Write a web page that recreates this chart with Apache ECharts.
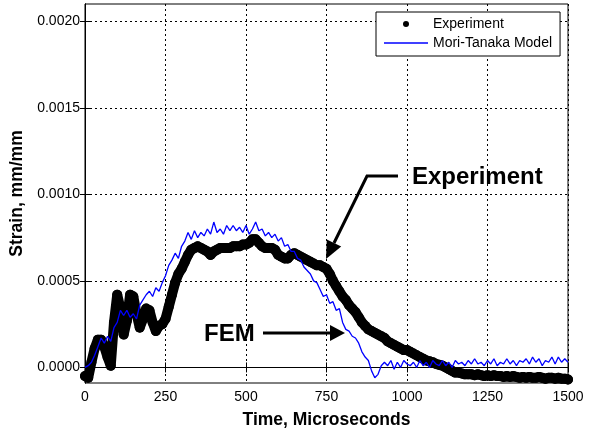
<!DOCTYPE html>
<html>
<head>
<meta charset="utf-8">
<script src="https://cdn.jsdelivr.net/npm/echarts@6/dist/echarts.min.js"></script>
<style>
html,body{margin:0;padding:0;background:#fff;}
#chart{width:598px;height:434px;}
</style>
</head>
<body>
<div id="chart"></div>
<script>
// Time in microseconds (sample every 10 us)
var times = [];
for (var i = 0; i <= 150; i++) times.push(i * 10);

var xTicks = [0, 250, 500, 750, 1000, 1250, 1500];
var yTicks = [0, 0.0005, 0.0010, 0.0015, 0.0020];

// Experiment strain, mm/mm
var experiment = [
 -0.5e-4,-0.6e-4,0.3e-4,1.1e-4,1.6e-4,1.6e-4,1.2e-4,0.6e-4,0.1e-4,2.6e-4,
 4.2e-4,3.4e-4,1.9e-4,2.7e-4,4.2e-4,4.1e-4,3.1e-4,2.3e-4,2.8e-4,3.4e-4,
 3.3e-4,2.6e-4,2.1e-4,2.4e-4,2.5e-4,2.8e-4,3.5e-4,4.2e-4,4.9e-4,5.4e-4,
 5.7e-4,6.1e-4,6.5e-4,6.8e-4,6.9e-4,7.0e-4,6.9e-4,6.8e-4,6.7e-4,6.5e-4,
 6.7e-4,6.8e-4,6.9e-4,6.9e-4,6.9e-4,6.9e-4,7.0e-4,7.0e-4,7.0e-4,7.1e-4,
 7.1e-4,7.2e-4,7.4e-4,7.4e-4,7.2e-4,7.0e-4,6.9e-4,6.9e-4,6.9e-4,6.8e-4,
 6.5e-4,6.4e-4,6.3e-4,6.3e-4,6.5e-4,6.6e-4,6.5e-4,6.4e-4,6.3e-4,6.2e-4,
 6.1e-4,6.0e-4,5.9e-4,5.9e-4,5.8e-4,5.7e-4,5.4e-4,5.0e-4,4.7e-4,4.4e-4,
 4.1e-4,3.9e-4,3.6e-4,3.4e-4,3.2e-4,2.9e-4,2.6e-4,2.4e-4,2.2e-4,2.1e-4,
 2.0e-4,1.9e-4,1.8e-4,1.7e-4,1.5e-4,1.4e-4,1.3e-4,1.2e-4,1.1e-4,1.0e-4,
 1.0e-4,0.9e-4,0.8e-4,0.7e-4,0.6e-4,0.5e-4,0.4e-4,0.35e-4,0.3e-4,0.2e-4,
 0.15e-4,0.1e-4,0.0,-0.1e-4,-0.2e-4,-0.3e-4,-0.3e-4,-0.35e-4,-0.4e-4,-0.4e-4,
 -0.4e-4,-0.45e-4,-0.4e-4,-0.45e-4,-0.5e-4,-0.45e-4,-0.5e-4,-0.45e-4,-0.5e-4,-0.5e-4,
 -0.55e-4,-0.5e-4,-0.55e-4,-0.5e-4,-0.55e-4,-0.6e-4,-0.55e-4,-0.6e-4,-0.55e-4,-0.6e-4,
 -0.6e-4,-0.55e-4,-0.6e-4,-0.65e-4,-0.6e-4,-0.6e-4,-0.65e-4,-0.6e-4,-0.65e-4,-0.65e-4,
 -0.7e-4
];

// Mori-Tanaka model strain, mm/mm
var moriTanaka = [
 0.0,0.1e-4,0.3e-4,0.7e-4,1.2e-4,1.7e-4,1.4e-4,1.8e-4,1.5e-4,2.3e-4,
 2.6e-4,3.3e-4,3.0e-4,3.3e-4,2.9e-4,3.1e-4,2.8e-4,3.6e-4,3.9e-4,4.2e-4,
 4.4e-4,4.1e-4,4.6e-4,4.4e-4,4.9e-4,5.3e-4,5.9e-4,6.2e-4,6.6e-4,6.3e-4,
 7.0e-4,7.3e-4,7.8e-4,7.4e-4,7.9e-4,7.5e-4,7.8e-4,7.6e-4,8.0e-4,7.7e-4,
 8.4e-4,7.8e-4,8.0e-4,7.7e-4,8.2e-4,7.9e-4,8.2e-4,7.9e-4,8.1e-4,7.8e-4,
 8.2e-4,7.7e-4,8.0e-4,8.4e-4,7.9e-4,8.0e-4,7.6e-4,7.8e-4,7.5e-4,7.7e-4,
 7.3e-4,7.5e-4,7.0e-4,7.1e-4,6.7e-4,6.7e-4,6.3e-4,6.2e-4,5.8e-4,5.6e-4,
 5.4e-4,5.0e-4,4.9e-4,4.5e-4,4.1e-4,4.2e-4,3.7e-4,3.8e-4,3.3e-4,3.4e-4,
 2.6e-4,2.2e-4,2.1e-4,1.8e-4,1.7e-4,1.4e-4,0.9e-4,0.6e-4,0.4e-4,-0.2e-4,
 -0.6e-4,-0.4e-4,0.1e-4,0.3e-4,0.1e-4,0.4e-4,-0.1e-4,0.3e-4,0.0,0.4e-4,
 0.2e-4,0.1e-4,0.3e-4,0.0,0.4e-4,0.1e-4,0.3e-4,0.0,0.4e-4,0.2e-4,
 0.1e-4,0.4e-4,0.1e-4,0.3e-4,0.0,0.4e-4,0.2e-4,0.3e-4,0.1e-4,0.4e-4,
 0.2e-4,0.5e-4,0.2e-4,0.3e-4,0.1e-4,0.4e-4,0.2e-4,0.5e-4,0.1e-4,0.3e-4,
 0.2e-4,0.5e-4,0.2e-4,0.4e-4,0.1e-4,0.4e-4,0.3e-4,0.5e-4,0.2e-4,0.6e-4,
 0.3e-4,0.5e-4,0.1e-4,0.4e-4,0.3e-4,0.6e-4,0.2e-4,0.6e-4,0.3e-4,0.5e-4,
 0.3e-4
];

function pairs(xs, ys) {
  var out = [];
  for (var i = 0; i < xs.length; i++) out.push([xs[i], ys[i]]);
  return out;
}

var FONT = '"Liberation Sans", Arial, Helvetica, sans-serif';
var chart = echarts.init(document.getElementById('chart'), null, {renderer: 'canvas'});

var gridLine = {show: true, lineStyle: {color: '#000', type: [2, 3], width: 1}};

var option = {
  animation: false,
  backgroundColor: '#fff',
  textStyle: {fontFamily: FONT},
  grid: {left: 85, right: 30, top: 4, bottom: 51, show: true, borderColor: '#000', borderWidth: 1},
  legend: {
    orient: 'vertical',
    left: 376, top: 12,
    padding: [5, 8, 6, 8],
    itemWidth: 44, itemHeight: 6, itemGap: 5,
    backgroundColor: '#fff', borderColor: '#000', borderWidth: 1, borderRadius: 0,
    textStyle: {fontFamily: FONT, fontSize: 14, color: '#000'},
    data: [
      {name: 'Experiment', icon: 'circle'},
      {name: 'Mori-Tanaka Model', icon: 'path://M0,0L44,0L44,1.5L0,1.5Z'}
    ]
  },
  xAxis: [{
    type: 'value', min: 0, max: 1500, interval: 250,
    name: 'Time, Microseconds', nameLocation: 'middle', nameGap: 28,
    nameTextStyle: {fontFamily: FONT, fontSize: 17.5, fontWeight: 'bold', color: '#000'},
    axisLine: {show: true, lineStyle: {color: '#000', width: 1}},
    axisTick: {show: true, inside: true, length: 5, lineStyle: {color: '#000'}},
    axisLabel: {fontFamily: FONT, fontSize: 14, color: '#000', margin: 7,
      formatter: function (v) { return String(v); }},
    splitLine: gridLine
  }, {
    type: 'value', min: 0, max: 1500, interval: 250, position: 'top',
    axisLine: {show: true, lineStyle: {color: '#000', width: 1}},
    axisTick: {show: true, inside: true, length: 5, lineStyle: {color: '#000'}},
    axisLabel: {show: false}, splitLine: {show: false}
  }],
  yAxis: [{
    type: 'value', min: -0.00009, max: 0.0021,
    name: 'Strain, mm/mm', nameLocation: 'middle', nameGap: 49,
    nameTextStyle: {fontFamily: FONT, fontSize: 17.5, fontWeight: 'bold', color: '#000'},
    axisLine: {show: true, lineStyle: {color: '#000', width: 1}},
    axisTick: {show: true, inside: true, length: 5, lineStyle: {color: '#000'}, customValues: yTicks},
    axisLabel: {fontFamily: FONT, fontSize: 14, color: '#000', margin: 5, customValues: yTicks,
      formatter: function (v) { return v.toFixed(4); }},
    splitLine: gridLine
  }, {
    type: 'value', min: -0.00009, max: 0.0021, position: 'right',
    axisLine: {show: true, lineStyle: {color: '#000', width: 1}},
    axisTick: {show: true, inside: true, length: 5, lineStyle: {color: '#000'}, customValues: yTicks},
    axisLabel: {show: false, customValues: yTicks}, splitLine: {show: false}
  }],
  series: [{
    name: 'Experiment', type: 'line',
    data: pairs(times, experiment),
    symbol: 'circle', symbolSize: 10, showSymbol: true, showAllSymbol: true,
    itemStyle: {color: '#000'},
    lineStyle: {color: '#000', width: 10, join: 'round', cap: 'round'},
    clip: true, z: 2
  }, {
    name: 'Mori-Tanaka Model', type: 'line',
    data: pairs(times, moriTanaka),
    symbol: 'none', showSymbol: false,
    lineStyle: {color: '#0000ff', width: 1.3},
    itemStyle: {color: '#0000ff'},
    clip: true, z: 3
  }],
  graphic: [
    {type: 'polyline', z: 100, shape: {points: [[398, 176], [367, 176], [334, 243]]},
     style: {stroke: '#000', lineWidth: 3, fill: null}},
    {type: 'polygon', z: 100, shape: {points: [[326, 259], [341.2, 246.4], [326.8, 239.4]]},
     style: {fill: '#000'}},
    {type: 'text', z: 100, x: 412, y: 177,
     style: {text: 'Experiment', font: 'bold 24px ' + FONT, fill: '#000', align: 'left', verticalAlign: 'middle'}},
    {type: 'polyline', z: 100, shape: {points: [[263, 333], [332, 333]]},
     style: {stroke: '#000', lineWidth: 3, fill: null}},
    {type: 'polygon', z: 100, shape: {points: [[345, 333], [330, 325], [330, 341]]},
     style: {fill: '#000'}},
    {type: 'text', z: 100, x: 204, y: 334,
     style: {text: 'FEM', font: 'bold 24px ' + FONT, fill: '#000', align: 'left', verticalAlign: 'middle'}}
  ]
};
chart.setOption(option);
</script>
</body>
</html>
